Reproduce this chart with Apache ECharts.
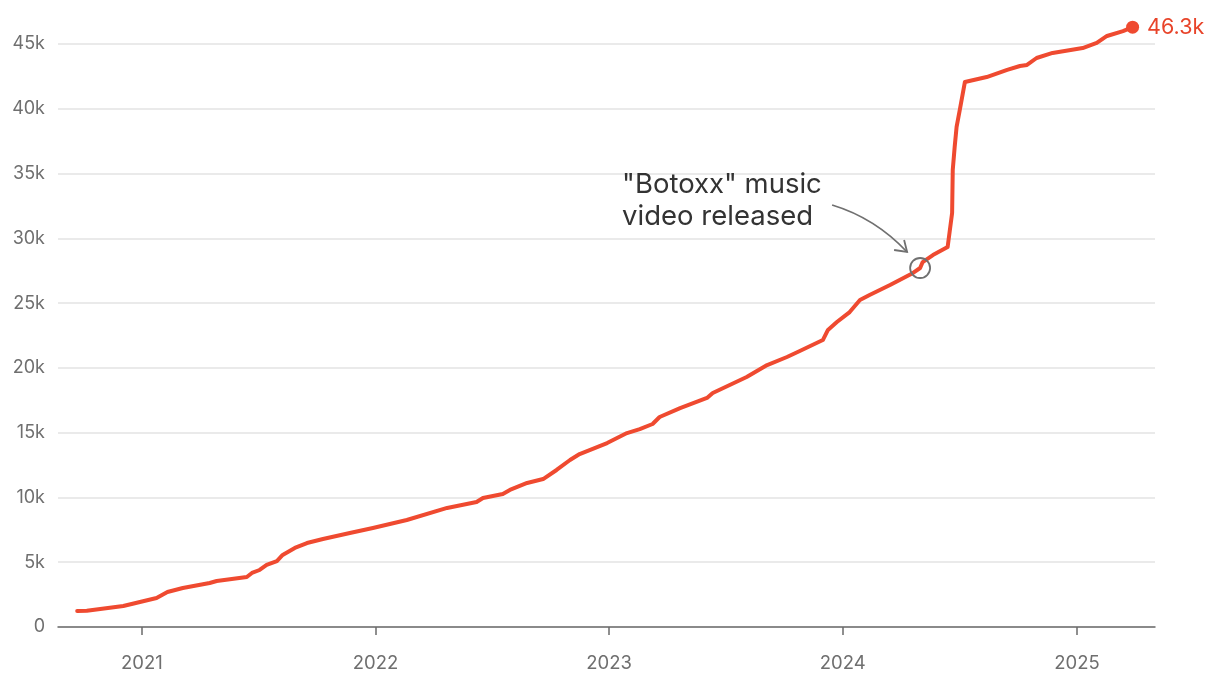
<!DOCTYPE html>
<html>
<head>
<meta charset="utf-8">
<script src="https://cdn.jsdelivr.net/npm/echarts@6/dist/echarts.min.js"></script>
<style>
html,body{margin:0;padding:0;background:#fff;}
#chart{width:1220px;height:690px;}
</style>
</head>
<body>
<div id="chart"></div>
<script>
const dates = ['2020-09-22','2020-10-07','2020-12-03','2021-01-24','2021-02-10','2021-03-06','2021-04-17','2021-04-28','2021-06-14','2021-06-22','2021-07-04','2021-07-15','2021-07-31','2021-08-09','2021-08-28','2021-09-16','2021-10-11','2021-11-22','2021-12-28','2022-02-19','2022-04-23','2022-06-08','2022-06-18','2022-07-19','2022-07-30','2022-08-26','2022-09-20','2022-10-11','2022-11-01','2022-11-16','2022-12-29','2023-01-29','2023-02-18','2023-03-10','2023-03-21','2023-04-22','2023-06-03','2023-06-12','2023-08-04','2023-09-05','2023-10-06','2023-10-26','2023-12-01','2023-12-09','2023-12-23','2024-01-12','2024-01-28','2024-02-12','2024-03-15','2024-04-20','2024-05-01','2024-05-05','2024-05-21','2024-06-13','2024-06-20','2024-06-21','2024-06-24','2024-06-27','2024-07-02','2024-07-10','2024-08-13','2024-09-14','2024-10-04','2024-10-15','2024-10-30','2024-11-24','2025-01-10','2025-02-01','2025-02-17','2025-03-14','2025-03-29'];
const followers = [1240,1260,1620,2240,2700,3010,3400,3550,3860,4170,4400,4790,5090,5560,6100,6480,6790,7260,7640,8260,9190,9650,9960,10270,10580,11120,11420,12120,12890,13350,14200,14970,15280,15670,16210,16900,17680,18060,19300,20220,20840,21300,22150,22930,23540,24310,25240,25630,26400,27330,27710,28170,28710,29330,31960,35280,37050,38600,39910,42070,42450,43000,43300,43380,43920,44310,44690,45080,45620,46000,46300];
const yearTicks = ['2021-01-01','2022-01-01','2023-01-01','2024-01-01','2025-01-01'];
const xRange = ['2020-08-23','2025-05-03'];
const annotationDate = '2024-05-01';
const annotationValue = 27710;
const annotationText = '"Botoxx" music\nvideo released';
const endLabelText = '46.3k';

const RED = '#ef4a30';
const ts = (s)=>{const [y,m,d]=s.split('-').map(Number); return Date.UTC(y,m-1,d);};
const lineData = dates.map((d,i)=>[ts(d), followers[i]]);
const last = lineData[lineData.length-1];
const tickVals = yearTicks.map(ts);

const chart = echarts.init(document.getElementById('chart'), null, {renderer:'canvas'});
const option = {
  animation:false,
  backgroundColor:'#fff',
  grid:{left:58, right:65, top:44, bottom:63, containLabel:false},
  xAxis:{
    type:'value',
    min:ts(xRange[0]), max:ts(xRange[1]),
    splitLine:{show:false},
    axisLine:{show:true, lineStyle:{color:'#6b6b6b', width:1.5}},
    axisTick:{show:true, length:8, lineStyle:{color:'#6b6b6b', width:1.5}, customValues: tickVals},
    axisLabel:{
      color:'#6f6f6f', fontSize:18.5, fontFamily:'Inter', margin:27,
      customValues: tickVals,
      formatter:(v)=>String(new Date(v).getUTCFullYear())
    }
  },
  yAxis:{
    type:'value', min:0, max:45000, interval:5000,
    axisLine:{show:false}, axisTick:{show:false},
    splitLine:{show:true, lineStyle:{color:'#e3e3e3', width:1.5}},
    axisLabel:{color:'#6f6f6f', fontSize:18, fontFamily:'Inter', margin:13,
      formatter:(v)=> v===0 ? '0' : (v/1000)+'k'}
  },
  series:[
    {
      type:'line', data:lineData, showSymbol:false, clip:false,
      lineStyle:{color:RED, width:4, join:'round', cap:'round'},
      silent:true, z:3
    },
    {
      type:'scatter', data:[last], clip:false, symbolSize:13,
      itemStyle:{color:RED, opacity:1}, z:4, silent:true,
      label:{show:true, position:'right', distance:8, formatter:endLabelText,
        color:'#e8442a', fontSize:21.5, fontFamily:'Inter', opacity:1}
    }
  ]
};
chart.setOption(option);

const p = chart.convertToPixel({gridIndex:0}, [ts(annotationDate), annotationValue]);
const cx = p[0], cy = p[1];
chart.setOption({
  graphic:[
    {type:'circle', shape:{cx:cx, cy:cy, r:10}, style:{fill:'none', stroke:'#707070', lineWidth:1.8}, z:10},
    {type:'bezierCurve', shape:{x1:cx-88, y1:cy-63, cpx1:cx-45, cpy1:cy-50, x2:cx-13, y2:cy-16}, style:{fill:'none', stroke:'#707070', lineWidth:1.8}, z:10},
    {type:'polyline', shape:{points:[[cx-26,cy-18],[cx-13,cy-16],[cx-16,cy-28]]}, style:{fill:'none', stroke:'#707070', lineWidth:1.8}, z:10},
    {type:'text', x:cx-298, y:cy-99, style:{text:annotationText, fill:'#333', fontSize:27.5, fontFamily:'Inter', lineHeight:31.5, textAlign:'left', textVerticalAlign:'top'}, z:10}
  ]
});
</script>
</body>
</html>
